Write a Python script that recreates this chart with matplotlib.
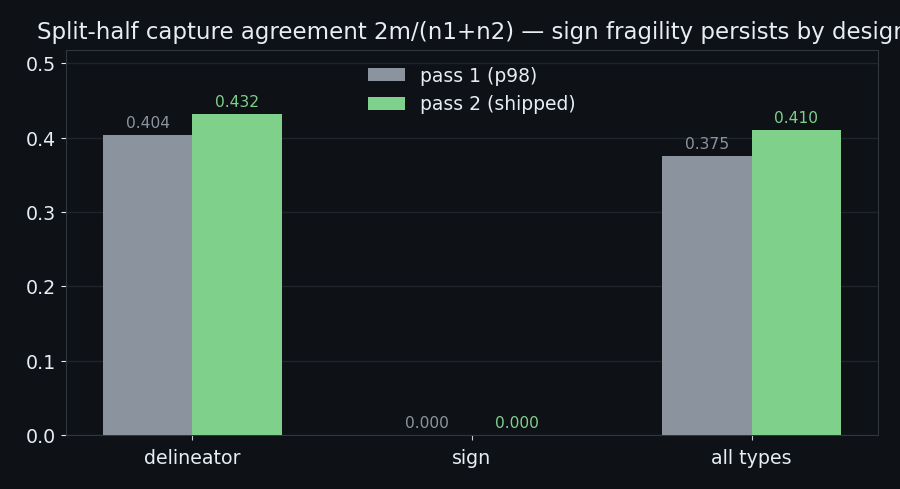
import numpy as np
import matplotlib
matplotlib.use("Agg")
import matplotlib.pyplot as plt

# data
categories = ["delineator", "sign", "all types"]
pass1 = [0.404, 0.000, 0.375]
pass2 = [0.432, 0.000, 0.410]
series_names = ["pass 1 (p98)", "pass 2 (shipped)"]

bg = "#0e1116"
fg = "#e6edf3"
gray = "#8b949e"
green = "#7ed08b"

fig, ax = plt.subplots(figsize=(9, 4.895), dpi=100)
fig.patch.set_facecolor(bg)
ax.set_facecolor(bg)

x = np.arange(len(categories))
w = 0.32
b1 = ax.bar(x - w / 2, pass1, w, color=gray, label=series_names[0], zorder=3)
b2 = ax.bar(x + w / 2, pass2, w, color=green, label=series_names[1], zorder=3)

ax.bar_label(b1, fmt="%.3f", padding=3, color=gray, fontsize=11.2)
ax.bar_label(b2, fmt="%.3f", padding=3, color=green, fontsize=11.2)

ax.set_ylim(0, max(pass2) * 1.2)
ax.set_xticks(x)
ax.set_xticklabels(categories)
ax.tick_params(colors=fg, labelsize=13.7)
ax.tick_params(axis="x", color="#c9d1d9", pad=6)
ax.grid(axis="y", color="#1f242b", linewidth=1, zorder=0)
for s in ax.spines.values():
    s.set_color("#30363d")

ax.set_title("Split-half capture agreement 2m/(n1+n2) \u2014 sign fragility persists by design",
             color=fg, fontsize=16.5, pad=8)

leg = ax.legend(loc="upper center", frameon=False, fontsize=13.5)
for t in leg.get_texts():
    t.set_color(fg)

plt.subplots_adjust(left=0.0733, right=0.9756, bottom=0.1104, top=0.8978)
plt.savefig("out.png", facecolor=bg)
